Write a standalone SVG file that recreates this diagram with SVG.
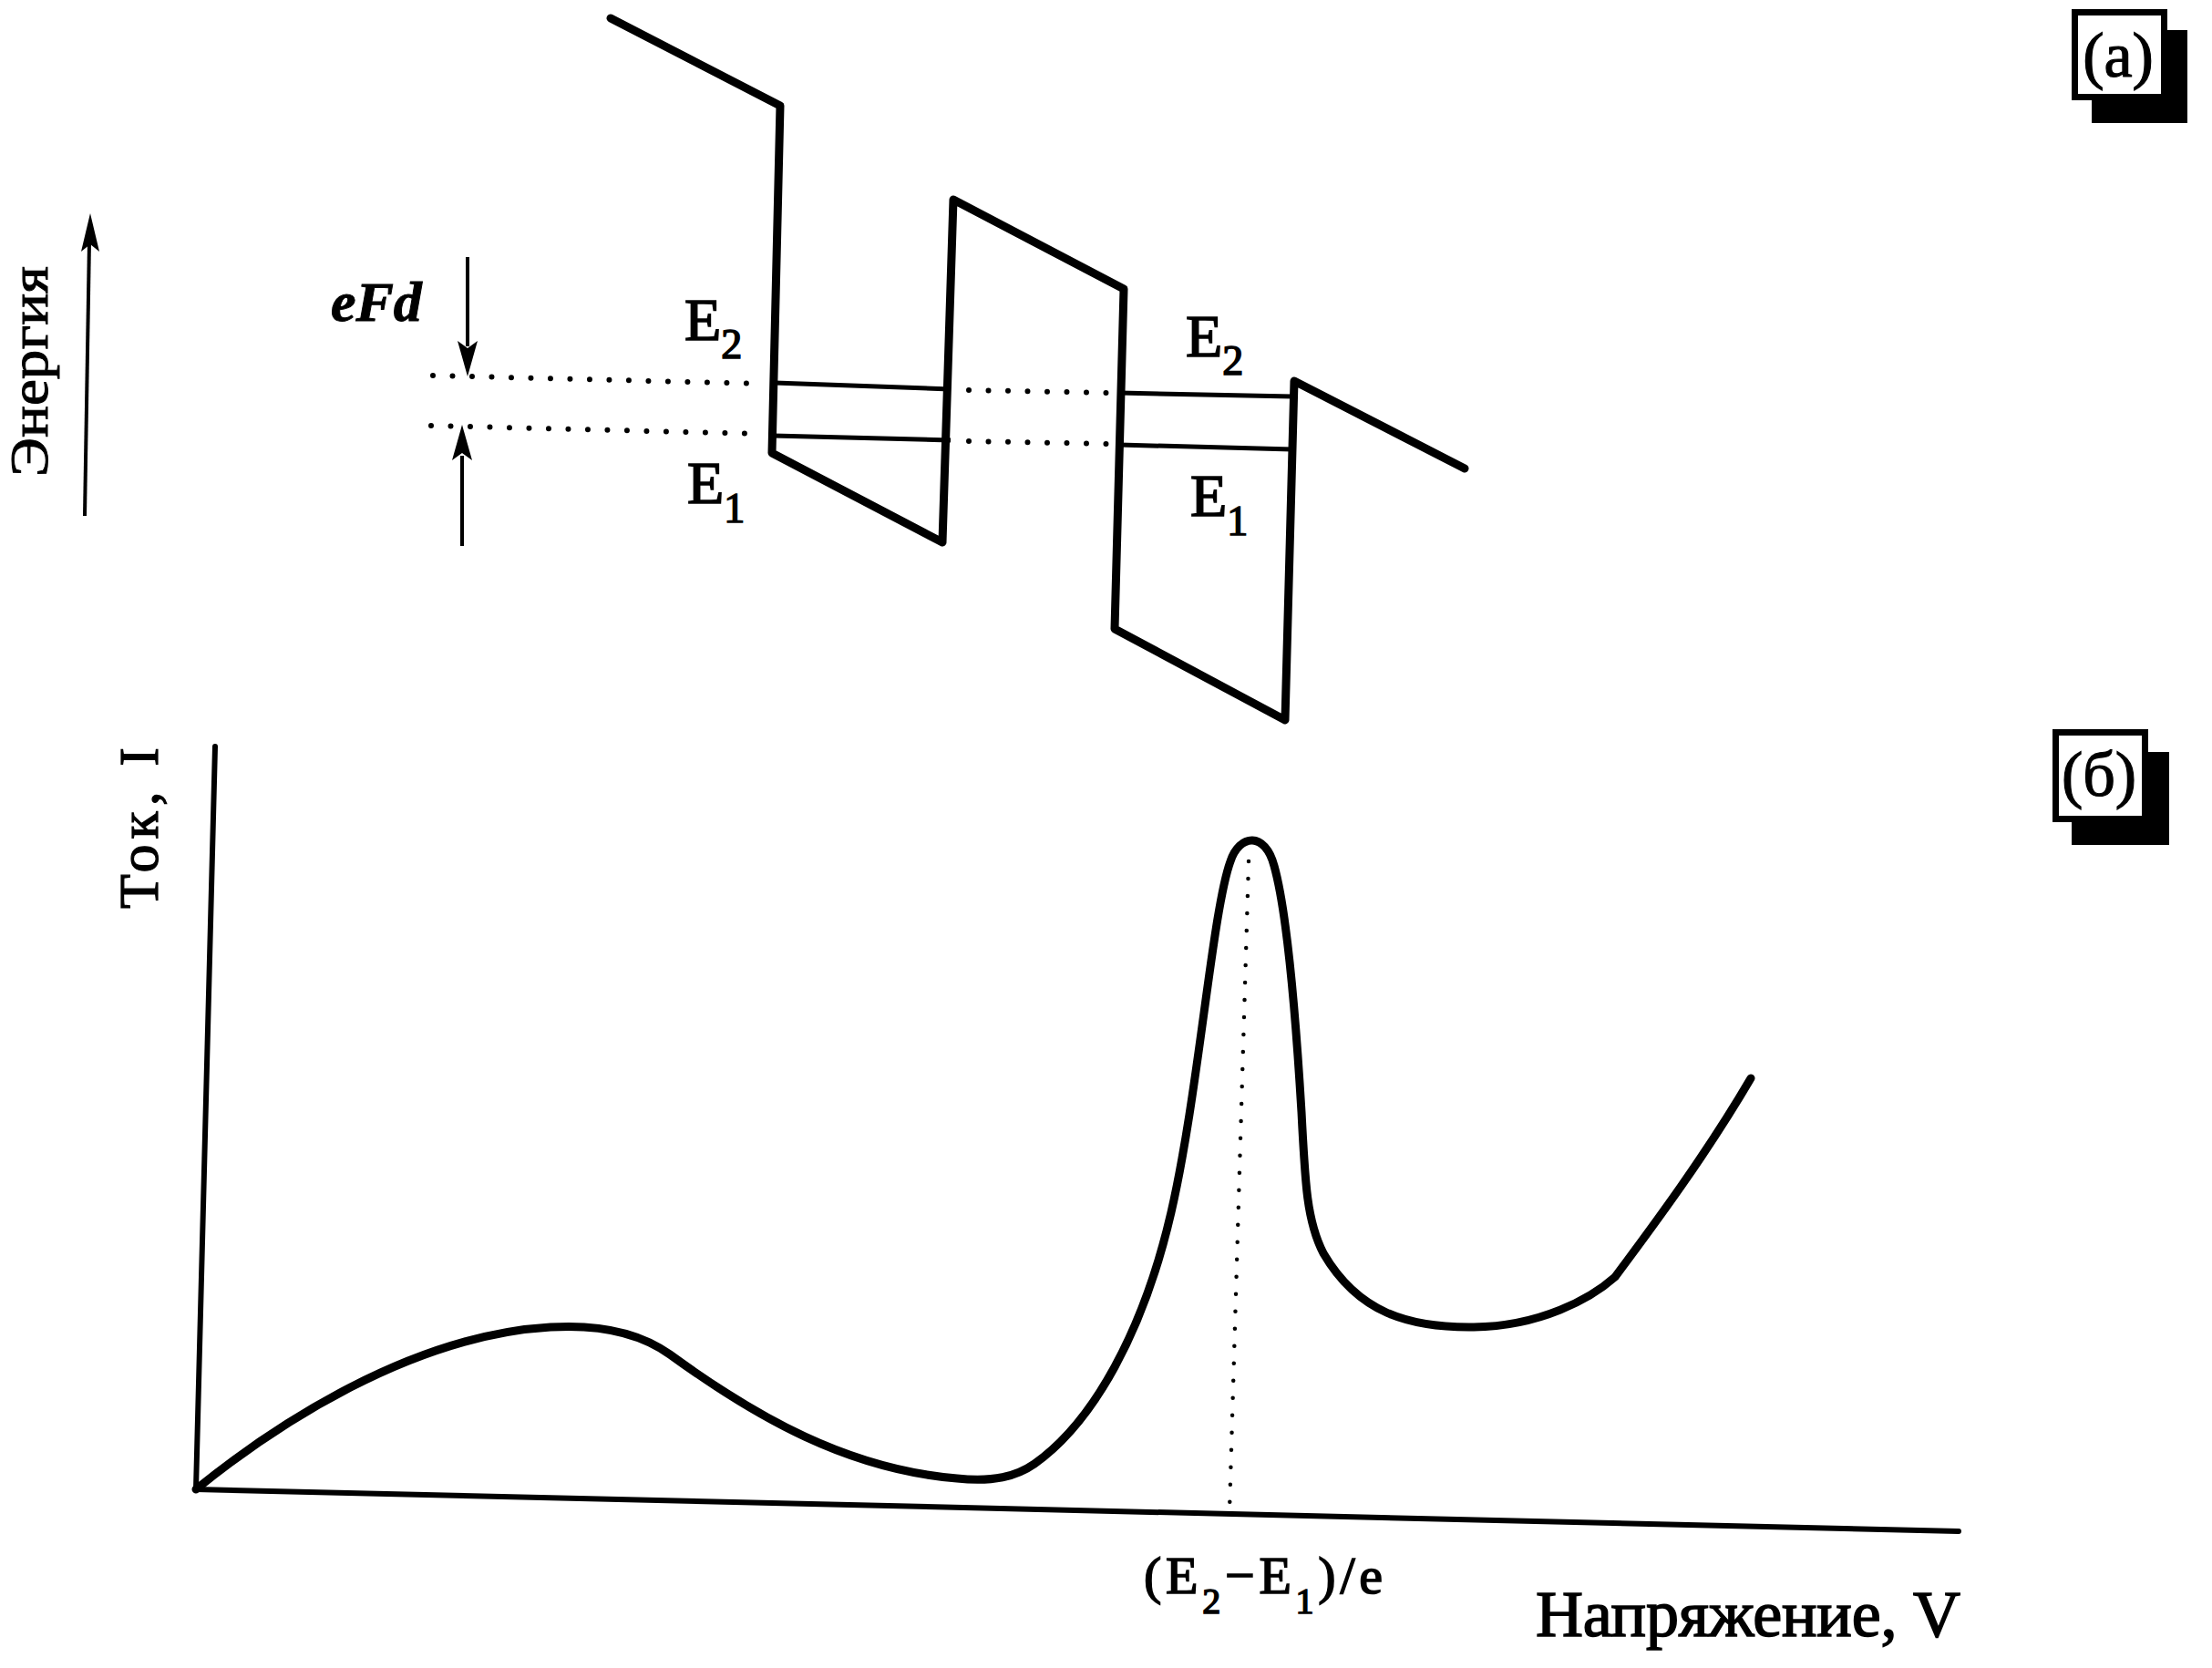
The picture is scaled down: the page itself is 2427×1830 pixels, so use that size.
<svg xmlns="http://www.w3.org/2000/svg" width="2427" height="1830" viewBox="0 0 2427 1830">
<style>
.band{fill:none;stroke:#000;stroke-width:9;stroke-linejoin:round;stroke-linecap:round}
.lvl{fill:none;stroke:#000;stroke-width:5}
.dot{fill:none;stroke:#000;stroke-width:6;stroke-linecap:round;stroke-dasharray:0 21.5}
.axis{fill:none;stroke:#000;stroke-width:6;stroke-linecap:round}
.curve{fill:none;stroke:#000;stroke-width:9;stroke-linecap:round;stroke-linejoin:round}
.thin{fill:none;stroke:#000;stroke-width:4}
.t{font-family:"Liberation Serif","Times New Roman",serif;fill:#000;stroke:#000;stroke-width:1.6}
.lab{font-size:66px}
.sub{font-size:46px}
</style>
<rect width="2427" height="1830" fill="#fff"/>

<g id="band-diagram">
<polyline class="band" points="670,20 856,116 847,497 1034,595 1046,219 1233,317 1223,690 1410,790 1420,418 1607,514"/>
</g>

<g id="levels">
<line class="lvl" x1="850" y1="420" x2="1043" y2="427"/>
<line class="lvl" x1="1228" y1="431" x2="1418" y2="435"/>
<line class="lvl" x1="848" y1="478" x2="1043" y2="483"/>
<line class="lvl" x1="1228" y1="488" x2="1418" y2="493"/>
</g>

<g id="connectors">
<line class="dot" x1="475" y1="412" x2="835" y2="421"/>
<line class="dot" x1="473" y1="467" x2="835" y2="476"/>
<line class="dot" x1="1063" y1="428" x2="1215" y2="431"/>
<line class="dot" x1="1063" y1="484" x2="1215" y2="487"/>
<line class="thin" x1="513" y1="282" x2="513" y2="380"/>
<path d="M502,374 L513,413 L524,374 L513,382 Z" fill="#000"/>
<line class="thin" x1="507" y1="599" x2="507" y2="500"/>
<path d="M496,505 L507,466 L518,505 L507,497 Z" fill="#000"/>
<line class="thin" x1="93" y1="566" x2="98" y2="265"/>
<path d="M89,276 L99,234 L109,276 L99,268 Z" fill="#000"/>
<line class="dot" x1="1370" y1="945" x2="1349" y2="1658" style="stroke-width:4.5;stroke-dasharray:0 19"/>
</g>

<g id="labels-a">
<text class="t" transform="translate(52,523) rotate(-90)" font-size="60" textLength="231" lengthAdjust="spacingAndGlyphs" style="stroke-width:1">Энергия</text>
<text class="t" x="363" y="352" font-size="62" font-weight="bold" font-style="italic" style="stroke-width:1">eFd</text>
<text class="t lab" x="751" y="373">E<tspan class="sub" dy="20">2</tspan></text>
<text class="t lab" x="754" y="552">E<tspan class="sub" dy="21">1</tspan></text>
<text class="t lab" x="1301" y="391">E<tspan class="sub" dy="20">2</tspan></text>
<text class="t lab" x="1306" y="566">E<tspan class="sub" dy="21">1</tspan></text>
</g>

<g id="tag-a">
<rect x="2295" y="33" width="105" height="102" fill="#000"/>
<rect x="2276.5" y="13.5" width="98" height="93" fill="#fff" stroke="#000" stroke-width="7"/>
<text class="t" x="2324" y="84" font-size="70" text-anchor="middle" style="stroke-width:1.2">(а)</text>
</g>

<g id="tag-b">
<rect x="2273" y="825" width="107" height="102" fill="#000"/>
<rect x="2255.5" y="803.5" width="98" height="95" fill="#fff" stroke="#000" stroke-width="7"/>
<text class="t" x="2303" y="873" font-size="70" text-anchor="middle" style="stroke-width:1.2">(б)</text>
</g>

<g id="plot">
<line class="axis" x1="236" y1="819" x2="215" y2="1634"/>
<line class="axis" x1="215" y1="1634" x2="2149" y2="1680"/>
<path class="curve" d="M215,1634 C300,1565 450,1465 604,1456 C670,1452 710,1468 735,1486 C830,1555 930,1612 1050,1622 C1090,1626 1115,1620 1135,1606 C1200,1560 1255,1460 1285,1330 C1315,1200 1330,1000 1350,945 C1360,915 1388,912 1398,950 C1412,1000 1422,1120 1428,1220 C1432,1300 1434,1340 1452,1375 C1490,1440 1545,1457 1617,1456 C1690,1455 1745,1425 1772,1401 C1810,1350 1870,1270 1921,1183"/>
</g>

<g id="labels-b">
<text class="t" transform="translate(173,997) rotate(-90)" font-size="62" textLength="177" lengthAdjust="spacing" style="stroke-width:1.2">Ток, I</text>
<text class="t" x="1255" y="1748" font-size="58" textLength="262" lengthAdjust="spacing">(E<tspan font-size="40" dy="22">2</tspan><tspan dy="-22">−E</tspan><tspan font-size="40" dy="22">1</tspan><tspan dy="-22">)/e</tspan></text>
<text class="t" x="1685" y="1795" font-size="72" textLength="466" lengthAdjust="spacing">Напряжение, V</text>
</g>
</svg>
